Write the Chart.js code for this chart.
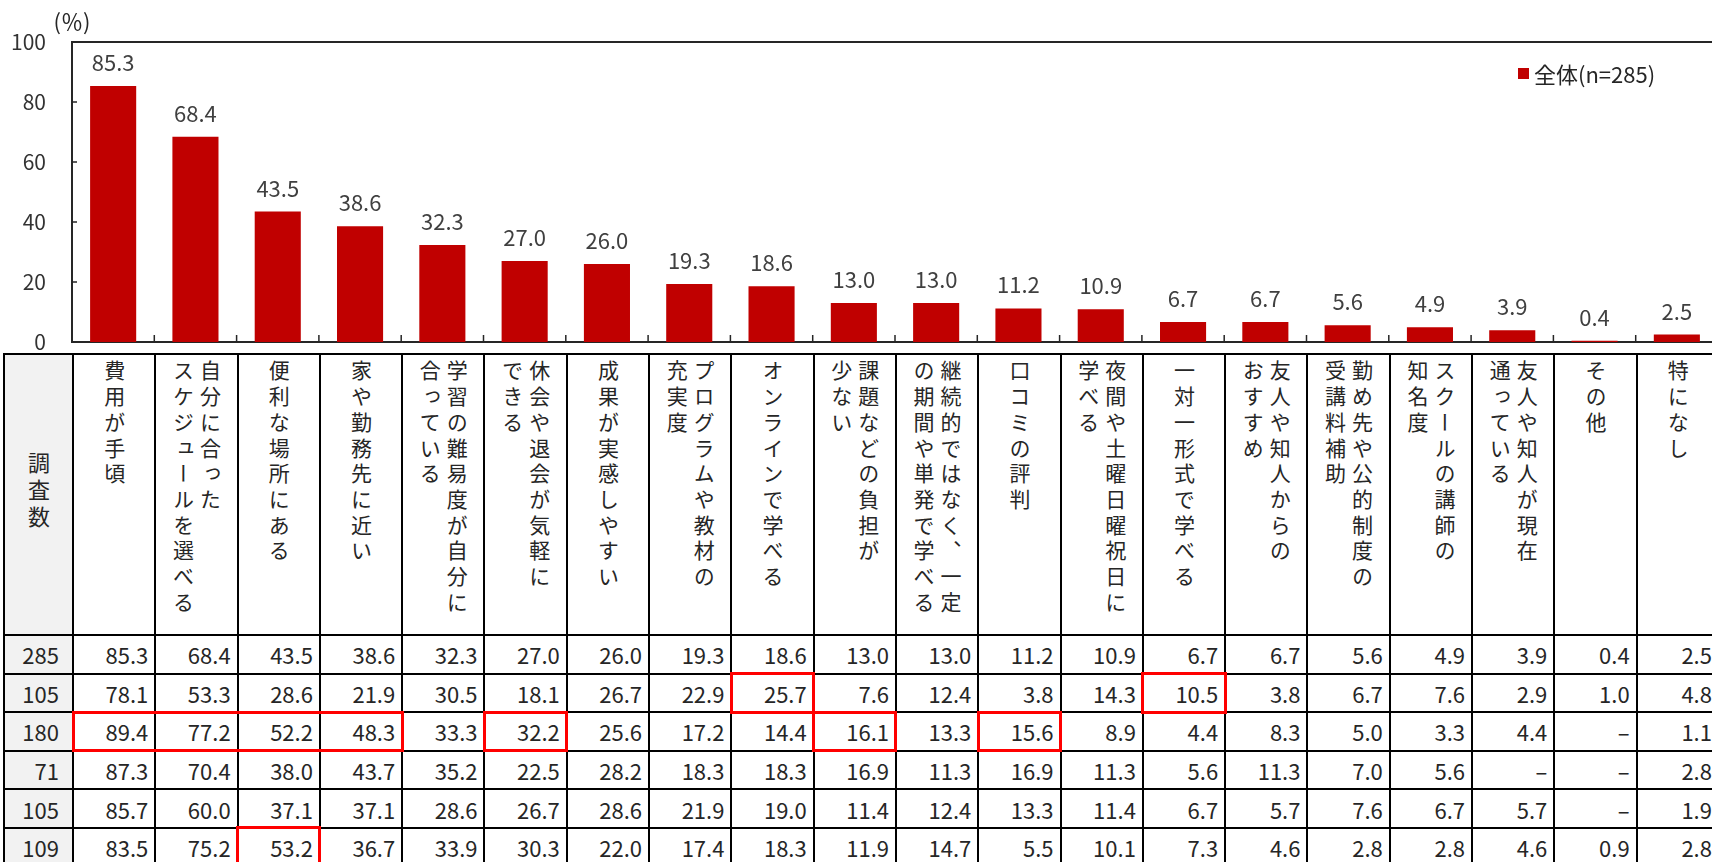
<!DOCTYPE html>
<html lang="ja">
<head>
<meta charset="utf-8">
<script src="https://cdn.jsdelivr.net/npm/chart.js@4.4.1/dist/chart.umd.min.js"></script>
<style>
  body {
    margin: 0;
    width: 1712px;
    height: 862px;
    overflow: hidden;
    background: #fff;
    font-family: "Noto Sans CJK JP", sans-serif;
    color: #262626;
  }
  #chart-box { position: absolute; left: 0; top: 0; width: 1718px; height: 350px; }
  #myChart { display: block; }
  #legend { position: absolute; left: 1518px; top: 57px; font-size: 22px; display: flex; align-items: center; }
  #legend .swatch { width: 11px; height: 11px; margin-right: 5px; }
  #table-box { position: absolute; left: 3px; top: 353px; }
  table { border-collapse: collapse; table-layout: fixed; }
  td { border: 2px solid #000; padding: 0; overflow: hidden; }
  td.n { background: #f2f2f2; text-align: right; padding-right: 13px; font-size: 22px; }
  td.corner { background: #f2f2f2; text-align: center; vertical-align: middle; }
  td.head { vertical-align: top; text-align: center; padding-top: 5px; }
  td.v { text-align: right; padding-right: 6px; font-size: 22px; }
  .vt {
    display: inline-block;
    writing-mode: vertical-rl;
    white-space: pre;
    font-size: 21px;
    line-height: 27px;
    letter-spacing: 4.7px;
    text-align: start;
  }
  .hl { position: absolute; border: 3px solid #ff0000; box-sizing: border-box; pointer-events: none; }
</style>
</head>
<body>
<div id="chart-box"><canvas id="myChart" width="1718" height="350"></canvas></div>
<div id="legend"></div>
<div id="table-box"></div>
<script>
'use strict';

// answer categories (\n = line break in the table header)
const categories = [
  '費用が手頃',
  '自分に合った\nスケジュールを選べる',
  '便利な場所にある',
  '家や勤務先に近い',
  '学習の難易度が自分に\n合っている',
  '休会や退会が気軽に\nできる',
  '成果が実感しやすい',
  'プログラムや教材の\n充実度',
  'オンラインで学べる',
  '課題などの負担が\n少ない',
  '継続的ではなく、一定\nの期間や単発で学べる',
  '口コミの評判',
  '夜間や土曜日曜祝日に\n学べる',
  '一対一形式で学べる',
  '友人や知人からの\nおすすめ',
  '勤め先や公的制度の\n受講料補助',
  'スクールの講師の\n知名度',
  '友人や知人が現在\n通っている',
  'その他',
  '特になし'
];

const overall = [85.3, 68.4, 43.5, 38.6, 32.3, 27.0, 26.0, 19.3, 18.6, 13.0, 13.0, 11.2, 10.9, 6.7, 6.7, 5.6, 4.9, 3.9, 0.4, 2.5];
const seriesLabel = '全体(n=285)';
const yTicks = [0, 20, 40, 60, 80, 100];

// table rows (null = no answer, shown as a dash)
const sampleSizes = [285, 105, 180, 71, 105, 109];
const row105a = [78.1, 53.3, 28.6, 21.9, 30.5, 18.1, 26.7, 22.9, 25.7, 7.6, 12.4, 3.8, 14.3, 10.5, 3.8, 6.7, 7.6, 2.9, 1.0, 4.8];
const row180 = [89.4, 77.2, 52.2, 48.3, 33.3, 32.2, 25.6, 17.2, 14.4, 16.1, 13.3, 15.6, 8.9, 4.4, 8.3, 5.0, 3.3, 4.4, null, 1.1];
const row71 = [87.3, 70.4, 38.0, 43.7, 35.2, 22.5, 28.2, 18.3, 18.3, 16.9, 11.3, 16.9, 11.3, 5.6, 11.3, 7.0, 5.6, null, null, 2.8];
const row105b = [85.7, 60.0, 37.1, 37.1, 28.6, 26.7, 28.6, 21.9, 19.0, 11.4, 12.4, 13.3, 11.4, 6.7, 5.7, 7.6, 6.7, 5.7, null, 1.9];
const row109 = [83.5, 75.2, 53.2, 36.7, 33.9, 30.3, 22.0, 17.4, 18.3, 11.9, 14.7, 5.5, 10.1, 7.3, 4.6, 2.8, 2.8, 4.6, 0.9, 2.8];
const tableRows = [overall, row105a, row180, row71, row105b, row109];

// red boxes: [row, first column, last column]
const highlights = [[1, 8, 8], [1, 13, 13], [2, 0, 3], [2, 5, 5], [2, 9, 9], [2, 11, 11], [5, 2, 2]];

const barColor = '#c00000';
const fontName = '"Noto Sans CJK JP", sans-serif';

// labels, frame top, inside tick marks, (%) unit
const decorPlugin = {
  id: 'decor',
  afterDraw(chart) {
    const ctx = chart.ctx;
    const area = chart.chartArea;
    const xs = chart.scales.x;
    const ys = chart.scales.y;
    ctx.save();
    ctx.strokeStyle = '#262626';
    ctx.lineWidth = 2;
    ctx.beginPath();
    ctx.moveTo(area.left - 1, area.top);
    ctx.lineTo(area.right + 2, area.top);
    ctx.stroke();

    ctx.lineWidth = 1.5;
    ctx.beginPath();
    yTicks.forEach(function (t) {
      const py = ys.getPixelForValue(t);
      ctx.moveTo(area.left, py);
      ctx.lineTo(area.left + 5, py);
    });
    for (let i = 1; i < categories.length; i++) {
      const px = (xs.getPixelForValue(i - 1) + xs.getPixelForValue(i)) / 2;
      ctx.moveTo(px, area.bottom);
      ctx.lineTo(px, area.bottom - 7);
    }
    ctx.stroke();

    ctx.font = '22px ' + fontName;
    ctx.fillStyle = '#404040';
    ctx.textAlign = 'center';
    ctx.textBaseline = 'alphabetic';
    chart.getDatasetMeta(0).data.forEach(function (bar, i) {
      ctx.fillText(overall[i].toFixed(1), bar.x, bar.y - 15);
    });

    ctx.font = '22px ' + fontName;
    ctx.fillStyle = '#262626';
    ctx.textBaseline = 'middle';
    ctx.fillText('(％)', area.left, 22);
    ctx.restore();
  }
};

const chartObj = new Chart(document.getElementById('myChart'), {
  type: 'bar',
  data: {
    labels: categories,
    datasets: [{
      label: seriesLabel,
      data: overall,
      backgroundColor: barColor,
      borderWidth: 0,
      barPercentage: 0.56,
      categoryPercentage: 1
    }]
  },
  options: {
    responsive: false,
    devicePixelRatio: 1,
    animation: false,
    events: [],
    layout: { padding: { top: 42, left: 0, right: 0, bottom: 0 } },
    plugins: {
      legend: { display: false },
      tooltip: { enabled: false }
    },
    scales: {
      x: {
        grid: { display: false, drawTicks: false },
        border: { display: true, color: '#262626', width: 2 },
        ticks: { display: false },
        afterFit: function (scale) { scale.height = 8; }
      },
      y: {
        min: 0,
        max: 100,
        afterBuildTicks: function (scale) {
          scale.ticks = yTicks.map(function (v) { return { value: v }; });
        },
        grid: { display: false, drawTicks: false },
        border: { display: true, color: '#262626', width: 2 },
        ticks: { color: '#333', font: { family: fontName, size: 21 }, padding: 26 },
        afterFit: function (scale) {
          scale.width = 72;
          scale.paddingTop = 0;
          scale.paddingBottom = 0;
        }
      }
    }
  },
  plugins: [decorPlugin]
});

// legend from the dataset
const legendEl = document.getElementById('legend');
chartObj.data.datasets.forEach(function (ds) {
  const sw = document.createElement('span');
  sw.className = 'swatch';
  sw.style.background = ds.backgroundColor;
  const txt = document.createElement('span');
  txt.textContent = ds.label;
  legendEl.appendChild(sw);
  legendEl.appendChild(txt);
});

// table, columns lined up with the x scale
function buildTable(chart) {
  const xs = chart.scales.x;
  const colW = (xs.right - xs.left) / categories.length;
  const firstW = xs.left - 3;
  const table = document.createElement('table');
  table.style.width = (firstW + colW * categories.length) + 'px';

  const colgroup = document.createElement('colgroup');
  const c0 = document.createElement('col');
  c0.style.width = firstW + 'px';
  colgroup.appendChild(c0);
  categories.forEach(function () {
    const c = document.createElement('col');
    c.style.width = colW + 'px';
    colgroup.appendChild(c);
  });
  table.appendChild(colgroup);

  const head = document.createElement('tr');
  head.style.height = '281px';
  const corner = document.createElement('td');
  corner.className = 'corner';
  corner.innerHTML = '<span class="vt" style="font-size:22px;letter-spacing:5px">調査数</span>';
  head.appendChild(corner);
  categories.forEach(function (name) {
    const td = document.createElement('td');
    td.className = 'head';
    const s = document.createElement('span');
    s.className = 'vt';
    s.textContent = name;
    td.appendChild(s);
    head.appendChild(td);
  });
  table.appendChild(head);

  const cells = [];
  tableRows.forEach(function (row, r) {
    const tr = document.createElement('tr');
    tr.style.height = '38.6px';
    const n = document.createElement('td');
    n.className = 'n';
    n.textContent = sampleSizes[r];
    tr.appendChild(n);
    cells.push([]);
    row.forEach(function (v) {
      const td = document.createElement('td');
      td.className = 'v';
      td.textContent = v === null ? '–' : v.toFixed(1);
      tr.appendChild(td);
      cells[r].push(td);
    });
    table.appendChild(tr);
  });
  document.getElementById('table-box').appendChild(table);

  highlights.forEach(function (h) {
    const a = cells[h[0]][h[1]].getBoundingClientRect();
    const b = cells[h[0]][h[2]].getBoundingClientRect();
    const box = document.createElement('div');
    box.className = 'hl';
    box.style.left = (a.left - 1.5) + 'px';
    box.style.top = (a.top - 1.5) + 'px';
    box.style.width = (b.right - a.left + 3) + 'px';
    box.style.height = (a.bottom - a.top + 3) + 'px';
    document.body.appendChild(box);
  });
}

buildTable(chartObj);
</script>
</body>
</html>
